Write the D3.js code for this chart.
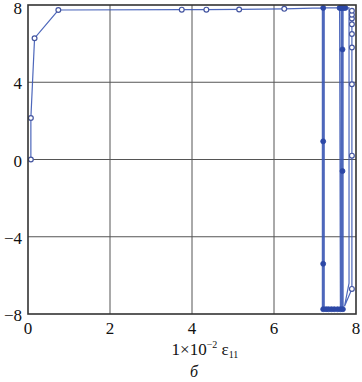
<!DOCTYPE html>
<html><head><meta charset="utf-8">
<script src="https://cdn.jsdelivr.net/npm/d3@7/dist/d3.min.js"></script>
<style>body{margin:0;background:#fff}svg{display:block}</style>
</head><body>
<script>
// Path of the stress-strain curve (strain ×10^-2, stress)
const pathStrain = [0.07,0.07,0.16,0.74,3.75,4.35,5.15,6.25,7.18,
  7.18,7.195,7.195,7.21,7.21,7.225,7.225,
  7.3,7.45,7.6,7.62,7.45,7.3,7.2,7.2,
  7.4,7.64,7.64,7.655,7.655,7.67,7.67,7.685,7.685,
  7.76,7.83,7.83,7.72,7.9,7.9,7.9,7.9,7.9,7.9,7.9,7.9,7.9,7.9];
const pathStress = [0,2.15,6.28,7.74,7.76,7.76,7.77,7.8,7.85,
  -7.75,-7.75,7.85,7.85,-7.75,-7.75,7.85,
  7.85,7.85,7.85,-7.75,-7.75,-7.75,-7.75,7.85,
  7.85,7.85,-7.75,-7.75,7.85,7.85,-7.75,-7.75,7.85,
  7.85,7.85,-6.4,-7.6,-6.7,0.2,3.9,5.8,6.5,7.0,7.3,7.5,7.7,7.85];
// open markers
const openStrain = [0.07,0.07,0.16,0.74,3.75,4.35,5.15,6.25,7.9,7.9,7.9,7.9,7.9,7.9,7.9,7.9,7.9];
const openStress = [0,2.15,6.28,7.74,7.76,7.76,7.77,7.8,-6.7,0.2,3.9,5.8,6.5,7.0,7.3,7.5,7.7];
// filled markers
const fillStrain = [7.2,7.2,7.67,7.67,7.2,7.6,7.63,7.66,7.7,7.74,7.2,7.27,7.33,7.4,7.47,7.55,7.62,7.68];
const fillStress = [0.94,-5.4,5.7,-0.6,7.85,7.85,7.85,7.85,7.85,7.85,-7.75,-7.75,-7.75,-7.75,-7.75,-7.75,-7.75,-7.75];
const xTicks = [0,2,4,6,8];
const yTicks = [-8,-4,0,4,8];

const W=362,H=382;
const svg=d3.select("body").append("svg").attr("width",W).attr("height",H);
const x=d3.scaleLinear().domain([0,8]).range([28,356]);
const y=d3.scaleLinear().domain([-8,8]).range([314,5]);
const font="'Liberation Serif','Times New Roman',serif";

// grid
svg.append("g").selectAll("line").data(xTicks.slice(1,-1)).join("line")
  .attr("x1",d=>x(d)).attr("x2",d=>x(d)).attr("y1",y(8)).attr("y2",y(-8))
  .attr("stroke","#555").attr("stroke-width",1);
svg.append("g").selectAll("line").data(yTicks.slice(1,-1)).join("line")
  .attr("y1",d=>y(d)).attr("y2",d=>y(d)).attr("x1",x(0)).attr("x2",x(8))
  .attr("stroke","#555").attr("stroke-width",1);

// data line
const pts=pathStrain.map((s,i)=>[s,pathStress[i]]);
svg.append("path").datum(pts)
  .attr("d",d3.line().x(d=>x(d[0])).y(d=>y(d[1])))
  .attr("fill","none").attr("stroke","#3a56b4").attr("stroke-width",1.2).attr("stroke-opacity",0.9);

svg.append("g").selectAll("circle").data(fillStrain.map((s,i)=>[s,fillStress[i]])).join("circle")
  .attr("cx",d=>x(d[0])).attr("cy",d=>y(d[1])).attr("r",2.5)
  .attr("fill","#2c47a6").attr("stroke","#2c47a6").attr("stroke-width",0.8);
svg.append("g").selectAll("circle").data(openStrain.map((s,i)=>[s,openStress[i]])).join("circle")
  .attr("cx",d=>x(d[0])).attr("cy",d=>y(d[1])).attr("r",2.4)
  .attr("fill","#fff").attr("stroke","#4455a0").attr("stroke-width",1.2);

// frame
svg.append("rect").attr("x",x(0)).attr("y",y(8)).attr("width",x(8)-x(0)).attr("height",y(-8)-y(8))
  .attr("fill","none").attr("stroke","#333").attr("stroke-width",1.6);

// tick labels
svg.append("g").selectAll("text").data(xTicks).join("text")
  .attr("x",d=>x(d)).attr("y",334).attr("text-anchor","middle")
  .attr("font-family",font).attr("font-size",17).attr("fill","#111").text(d=>d);
svg.append("g").selectAll("text").data(yTicks).join("text")
  .attr("x",22).attr("y",d=>d===8?y(d)+9:y(d)+7).attr("text-anchor","end")
  .attr("font-family",font).attr("font-size",17).attr("fill","#111").text(d=>d<0?"\u2212"+(-d):d);

// axis title
const t=svg.append("text").attr("x",205).attr("y",355).attr("text-anchor","middle")
  .attr("font-family",font).attr("font-size",17).attr("fill","#111");
t.append("tspan").text("1\u00d710");
t.append("tspan").attr("dy",-7).attr("font-size",10).text("\u22122");
t.append("tspan").attr("dy",7).text(" \u03b5");
t.append("tspan").attr("dy",3).attr("font-size",10).text("11");
svg.append("text").attr("x",194).attr("y",377).attr("text-anchor","middle")
  .attr("font-family",font).attr("font-size",16).attr("font-style","italic").attr("fill","#111").text("б");
</script>
</body></html>
